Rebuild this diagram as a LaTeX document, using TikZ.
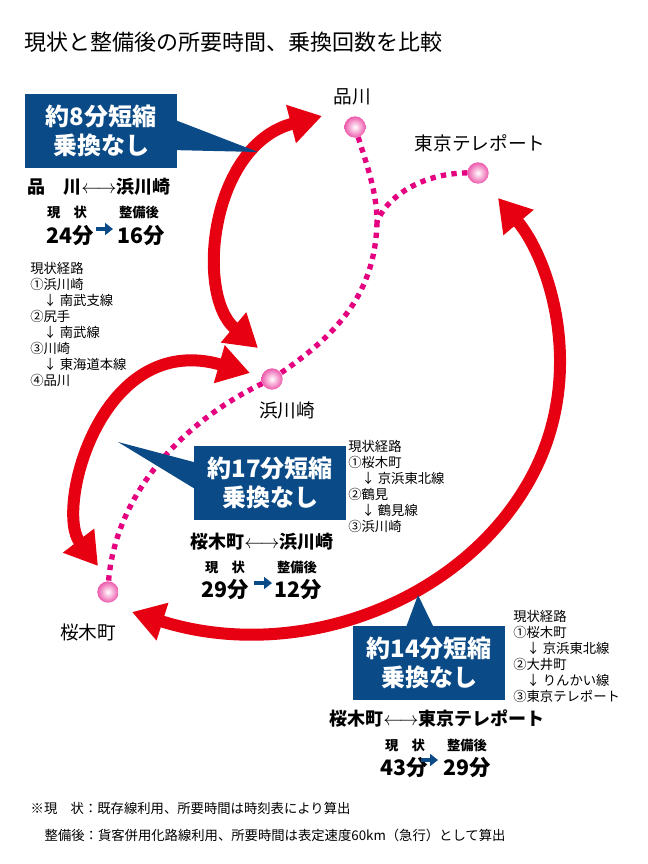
\documentclass[tikz,border=0pt]{standalone}
\usepackage{fontspec}
\setmainfont{Noto Sans CJK JP}
\usetikzlibrary{arrows.meta,shapes.geometric}
\definecolor{jrred}{HTML}{E60012}
\definecolor{boxblue}{HTML}{0A4A86}
\definecolor{dotpink}{HTML}{E4007F}
\tikzset{
  route/.style={jrred,line width=9pt,{Triangle[length=24pt,width=28pt]}-{Triangle[length=24pt,width=28pt]}},
  dots/.style={dotpink,line width=4pt,dash pattern=on 4pt off 4pt},
  station/.style={circle,minimum size=16pt,inner sep=0pt,inner color=white,outer color=dotpink!65!white},
  callout/.style={fill=boxblue,text=white,font=\fontsize{18}{22}\selectfont\bfseries,align=center,minimum width=114pt,minimum height=55pt},
  pair/.style={font=\fontsize{13.5}{16}\selectfont\bfseries,inner sep=0pt},
  small/.style={font=\fontsize{10}{12}\selectfont\bfseries,inner sep=0pt},
  mins/.style={font=\fontsize{16}{18}\selectfont\bfseries,inner sep=0pt},
  list/.style={font=\fontsize{10}{12}\selectfont,align=left,anchor=north west,inner sep=0pt},
  stationname/.style={font=\fontsize{14}{16}\selectfont},
  blue arrow/.style={boxblue,line width=3.5pt,-{Triangle[length=6pt,width=9pt]}}
}
\begin{document}
\begin{tikzpicture}[x=0.75pt,y=-0.75pt]
\useasboundingbox (0,0) rectangle (648,864);
% title
\node[anchor=west,font=\fontsize{16.5}{20}\selectfont] (title) at (20,42) {現状と整備後の所要時間、乗換回数を比較};
% dotted lines
\coordinate (junction) at (377,222);
\draw[dots] (355,127) .. controls (365,160) and (377,190) .. (junction);
\draw[dots] (478,173) .. controls (420,170) and (385,200) .. (junction);
\draw[dots] (junction) .. controls (375,300) and (330,340) .. (272,379);
\draw[dots] (272,379) .. controls (180,420) and (110,500) .. (108,592);
% stations
\node[station] (shinagawa) at (355,127) {};
\node[station] (teleport) at (478,173) {};
\node[station] (hamakawasaki) at (272,379) {};
\node[station] (sakuragicho) at (108,592) {};
\node[stationname] (lshinagawa) at (352,97) {品川};
\node[stationname] (lteleport) at (480,143) {東京テレポート};
\node[stationname] (lhamakawasaki) at (287,410) {浜川崎};
\node[stationname] (lsakuragicho) at (88,632) {桜木町};
% red arrows
\coordinate (a1) at (322,116);
\coordinate (a2) at (258,348);
\draw[route] (a1) .. controls (210,145) and (195,295) .. (a2);
\coordinate (b1) at (250,373);
\coordinate (b2) at (98,566);
\draw[route] (b1) .. controls (100,330) and (55,510) .. (b2);
\coordinate (c1) at (132,612);
\coordinate (cm) at (535,470);
\coordinate (c2) at (498,198);
\draw[route] (c1) .. controls (300,665) and (470,600) .. (cm) .. controls (585,370) and (550,260) .. (c2);
% callouts
\fill[boxblue] (170,118) -- (258,152) -- (170,150) -- cycle;
\node[callout] (box1) at (101,131) {約8分短縮\\乗換なし};
\fill[boxblue] (205,465) -- (118,442) -- (205,495) -- cycle;
\node[callout] (box2) at (270,483) {約17分短縮\\乗換なし};
\fill[boxblue] (405,630) -- (418,595) -- (435,630) -- cycle;
\node[callout] (box3) at (429,663) {約14分短縮\\乗換なし};
% 品川-浜川崎
\node[pair,anchor=west] (p1) at (27,187) {品\hspace{1em}川$\longleftrightarrow$浜川崎};
\node[small] (n1) at (67,212) {現\hspace{1em}状};
\node[small] (f1) at (139,212) {整備後};
\node[mins] (t1) at (70,236) {24分};
\node[mins] (u1) at (141,236) {16分};
\draw[blue arrow] (96,229) -- (113,229);
\node[list] (r1) at (30,262) {現状経路\\①浜川崎\\\hspace{1em}↓ 南武支線\\②尻手\\\hspace{1em}↓ 南武線\\③川崎\\\hspace{1em}↓ 東海道本線\\④品川};
% 桜木町-浜川崎
\node[pair] (p2) at (262,542) {桜木町$\longleftrightarrow$浜川崎};
\node[small] (n2) at (225,567) {現\hspace{1em}状};
\node[small] (f2) at (297,567) {整備後};
\node[mins] (t2) at (225,590) {29分};
\node[mins] (u2) at (298,590) {12分};
\draw[blue arrow] (254,583) -- (272,583);
\node[list] (r2) at (348,440) {現状経路\\①桜木町\\\hspace{1em}↓ 京浜東北線\\②鶴見\\\hspace{1em}↓ 鶴見線\\③浜川崎};
% 桜木町-東京テレポート
\node[pair] (p3) at (437,719) {桜木町$\longleftrightarrow$東京テレポート};
\node[small] (n3) at (405,745) {現\hspace{1em}状};
\node[small] (f3) at (467,745) {整備後};
\node[mins] (t3) at (404,768) {43分};
\node[mins] (u3) at (467,768) {29分};
\draw[blue arrow] (421,760) -- (438,760);
\node[list] (r3) at (513,610) {現状経路\\①桜木町\\\hspace{1em}↓ 京浜東北線\\②大井町\\\hspace{1em}↓ りんかい線\\③東京テレポート};
% notes
\node[anchor=west,font=\fontsize{10}{12}\selectfont] (note1) at (26,808) {※現\hspace{1em}状：既存線利用、所要時間は時刻表により算出};
\node[anchor=west,font=\fontsize{10}{12}\selectfont] (note2) at (40,835) {整備後：貨客併用化路線利用、所要時間は表定速度60km（急行）として算出};
\end{tikzpicture}
\end{document}
